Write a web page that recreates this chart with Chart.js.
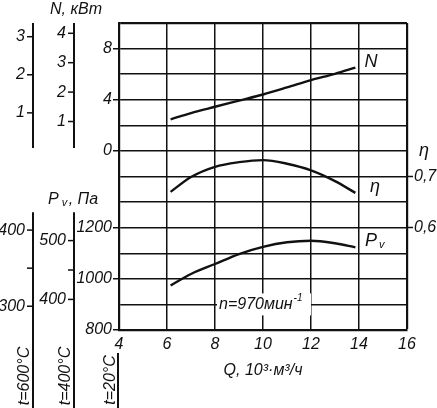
<!DOCTYPE html>
<html>
<head>
<meta charset="utf-8">
<script src="https://cdn.jsdelivr.net/npm/chart.js@4.4.1/dist/chart.umd.min.js"></script>
<style>
  html, body { margin: 0; padding: 0; background: #fff; }
  #wrap { width: 437px; height: 408px; }
</style>
</head>
<body>
<div id="wrap"><canvas id="myChart" width="437" height="408"></canvas></div>
<script>
// Q, 10^3 m3/h
const flow = [6.15, 7, 8, 9, 10, 11, 12, 13, 13.85];
// N, kW at 20°C
const power = [2.47, 2.96, 3.45, 3.93, 4.41, 4.96, 5.53, 6.03, 6.51];
// eta
const efficiency = [0.670, 0.699, 0.719, 0.728, 0.732, 0.725, 0.712, 0.691, 0.668];
// Pv, Pa at 20°C
const pressure = [974, 1019, 1058, 1097, 1125, 1143, 1149, 1139, 1123];

const flowTicks = [4, 6, 8, 10, 12, 14, 16];
const pressureLabels = [800, 1000, 1200];
const powerLabels = [0, 4, 8];
const efficiencyLabels = [0.6, 0.7];

// extra scales for hot gas (density ratio vs 20°C)
const k600 = 0.336;
const k400 = 0.435;
const power600Ticks = [1, 2, 3];
const power400Ticks = [1, 2, 3, 4];
const pressure600Ticks = [300, 400];
const pressure600Minor = [350];
const pressure400Ticks = [400, 500];
const pressure400Minor = [450];

const PV_MIN = 800, PV_MAX = 2000;
const N_MIN = -14, N_MAX = 10;
const ETA_MIN = 0.4, ETA_MAX = 1.0;

const FONT = '"Liberation Sans Narrow", "Liberation Sans", Arial, sans-serif';
const INK = "#111";

function font(size) {
	return "italic " + size + "px " + FONT;
}

function toPoints(ys) {
	return flow.map((q, i) => ({ x: q, y: ys[i] }));
}

// left axis label: Pv labels on the lower part, N labels on the upper part
function leftLabel(value) {
	if (pressureLabels.includes(value)) return String(value);
	const n = N_MIN + (value - PV_MIN) / (PV_MAX - PV_MIN) * (N_MAX - N_MIN);
	const hit = powerLabels.find(v => Math.abs(v - n) < 1e-6);
	return hit === undefined ? "" : String(hit);
}

const extras = {
	id: "extras",
	afterDraw(chart) {
		const ctx = chart.ctx;
		const { x, y, yN, yEta } = chart.scales;
		const area = chart.chartArea;
		ctx.save();
		ctx.fillStyle = INK;
		ctx.strokeStyle = INK;

		// rpm note with white box over the grid
		const nx = x.getPixelForValue(10);
		const ny = y.getPixelForValue(900);
		ctx.fillStyle = "#fff";
		ctx.fillRect(nx - 46, ny - 11, 94, 22);
		ctx.fillStyle = INK;
		ctx.font = font(16);
		ctx.textBaseline = "middle";
		ctx.textAlign = "left";
		const base = "n=970мин";
		const w = ctx.measureText(base).width;
		ctx.fillText(base, nx - 44, ny);
		ctx.font = font(10);
		ctx.fillText("-1", nx - 44 + w + 1, ny - 6);

		// curve labels
		ctx.font = font(18);
		ctx.textAlign = "center";
		ctx.fillText("N", x.getPixelForValue(14.5), yN.getPixelForValue(6.93));
		ctx.fillText("η", x.getPixelForValue(14.67), yEta.getPixelForValue(0.68));
		ctx.fillText("P", x.getPixelForValue(14.5), y.getPixelForValue(1148));
		ctx.font = font(11);
		ctx.fillText("v", x.getPixelForValue(14.95), y.getPixelForValue(1132));

		// eta axis title
		ctx.font = font(18);
		ctx.fillText("η", 424, yEta.getPixelForValue(0.75));

		// extra columns
		const colX = [33, 74];
		const pwr = [power600Ticks, power400Ticks];
		const prs = [pressure600Ticks, pressure400Ticks];
		const mnr = [pressure600Minor, pressure400Minor];
		const ks = [k600, k400];
		const bottomY = chart.height;
		colX.forEach((cx, i) => {
			const k = ks[i];
			ctx.lineWidth = 2;
			ctx.beginPath();
			ctx.moveTo(cx, area.top);
			ctx.lineTo(cx, yN.getPixelForValue(0) - 3);
			ctx.moveTo(cx, y.getPixelForValue(1260));
			ctx.lineTo(cx, bottomY);
			ctx.stroke();
			ctx.font = font(16);
			ctx.textAlign = "right";
			ctx.textBaseline = "middle";
			ctx.lineWidth = 1.5;
			pwr[i].forEach(v => {
				const py = yN.getPixelForValue(v / k);
				ctx.beginPath();
				ctx.moveTo(cx - 6, py);
				ctx.lineTo(cx, py);
				ctx.stroke();
				ctx.fillText(String(v), cx - 8, py);
			});
			prs[i].forEach(v => {
				const py = y.getPixelForValue(v / k);
				ctx.beginPath();
				ctx.moveTo(cx - 6, py);
				ctx.lineTo(cx, py);
				ctx.stroke();
				ctx.fillText(String(v), cx - 8, py);
			});
			mnr[i].forEach(v => {
				const py = y.getPixelForValue(v / k);
				ctx.beginPath();
				ctx.moveTo(cx - 6, py);
				ctx.lineTo(cx, py);
				ctx.stroke();
			});
		});

		// main axis continues below the x labels
		ctx.lineWidth = 2;
		ctx.beginPath();
		ctx.moveTo(area.left - 1, 353);
		ctx.lineTo(area.left - 1, bottomY);
		ctx.stroke();

		// temperature labels, rotated
		ctx.font = font(16);
		ctx.textAlign = "center";
		ctx.textBaseline = "middle";
		[["t=600°C", 24.5, 376], ["t=400°C", 66, 376], ["t=20°C", 110.5, 380]].forEach(([txt, tx, ty]) => {
			ctx.save();
			ctx.translate(tx, ty);
			ctx.rotate(-Math.PI / 2);
			ctx.fillText(txt, 0, 0);
			ctx.restore();
		});

		// column titles
		ctx.textAlign = "center";
		ctx.font = font(16);
		ctx.fillText("N, кВт", 76, 10);
		ctx.textAlign = "left";
		ctx.fillText("P", 48, 200);
		const pw = ctx.measureText("P").width;
		ctx.font = font(11);
		ctx.fillText("v", 48 + pw + 3, 203);
		ctx.font = font(16);
		ctx.fillText(", Па", 48 + pw + 10, 200);

		ctx.restore();
	},
};

function curve(label, values, axis) {
	return {
		label: label,
		data: toPoints(values),
		yAxisID: axis,
		borderColor: INK,
		borderWidth: 2.4,
		pointRadius: 0,
		cubicInterpolationMode: "monotone",
	};
}

const config = {
	type: "line",
	data: {
		datasets: [
			curve("N", power, "yN"),
			curve("η", efficiency, "yEta"),
			curve("Pv", pressure, "y"),
		],
	},
	options: {
		responsive: false,
		animation: false,
		layout: { padding: { top: 23, left: 0, right: 0, bottom: 0 } },
		plugins: {
			legend: { display: false },
			tooltip: { enabled: false },
		},
		scales: {
			x: {
				type: "linear",
				min: 4,
				max: 16,
				afterBuildTicks: scale => {
					scale.ticks = flowTicks.map(v => ({ value: v }));
				},
				afterFit: scale => {
					scale.height = 78;
				},
				border: { color: INK, width: 2.2 },
				grid: {
					color: INK,
					lineWidth: c => (c.tick && c.tick.value === 16 ? 2.2 : 1.5),
					drawTicks: false,
				},
				ticks: {
					color: INK,
					font: { family: FONT, size: 16, style: "italic" },
					padding: 5,
					maxRotation: 0,
				},
				title: {
					display: true,
					text: "Q, 10³·м³/ч",
					color: INK,
					font: { family: FONT, size: 16, style: "italic" },
					padding: { top: 0, bottom: 28 },
				},
			},
			y: {
				type: "linear",
				position: "left",
				min: PV_MIN,
				max: PV_MAX,
				afterFit: scale => {
					scale.width = 119;
				},
				border: { color: INK, width: 2.2 },
				grid: {
					color: INK,
					lineWidth: c => (c.tick && c.tick.value === PV_MAX ? 2.2 : 1.5),
					tickLength: 6,
					tickWidth: 1.5,
					tickColor: c => (c.tick && c.tick.label !== "" ? INK : "rgba(0,0,0,0)"),
				},
				ticks: {
					stepSize: 100,
					color: INK,
					padding: 1,
					font: { family: FONT, size: 16, style: "italic" },
					callback: v => leftLabel(v),
				},
			},
			yN: {
				type: "linear",
				display: false,
				min: N_MIN,
				max: N_MAX,
			},
			yEta: {
				type: "linear",
				position: "right",
				min: ETA_MIN,
				max: ETA_MAX,
				afterFit: scale => {
					scale.width = 30;
				},
				border: { display: false },
				grid: {
					drawOnChartArea: false,
					tickLength: 6,
					tickWidth: 1.5,
					tickColor: c => (c.tick && c.tick.label !== "" ? INK : "rgba(0,0,0,0)"),
				},
				ticks: {
					stepSize: 0.05,
					color: INK,
					padding: 1,
					font: { family: FONT, size: 16, style: "italic" },
					callback: v => {
						const hit = efficiencyLabels.find(e => Math.abs(e - v) < 1e-6);
						return hit === undefined ? "" : hit.toFixed(1).replace(".", ",");
					},
				},
			},
		},
	},
	plugins: [extras],
};

new Chart(document.getElementById("myChart"), config);
</script>
</body>
</html>
